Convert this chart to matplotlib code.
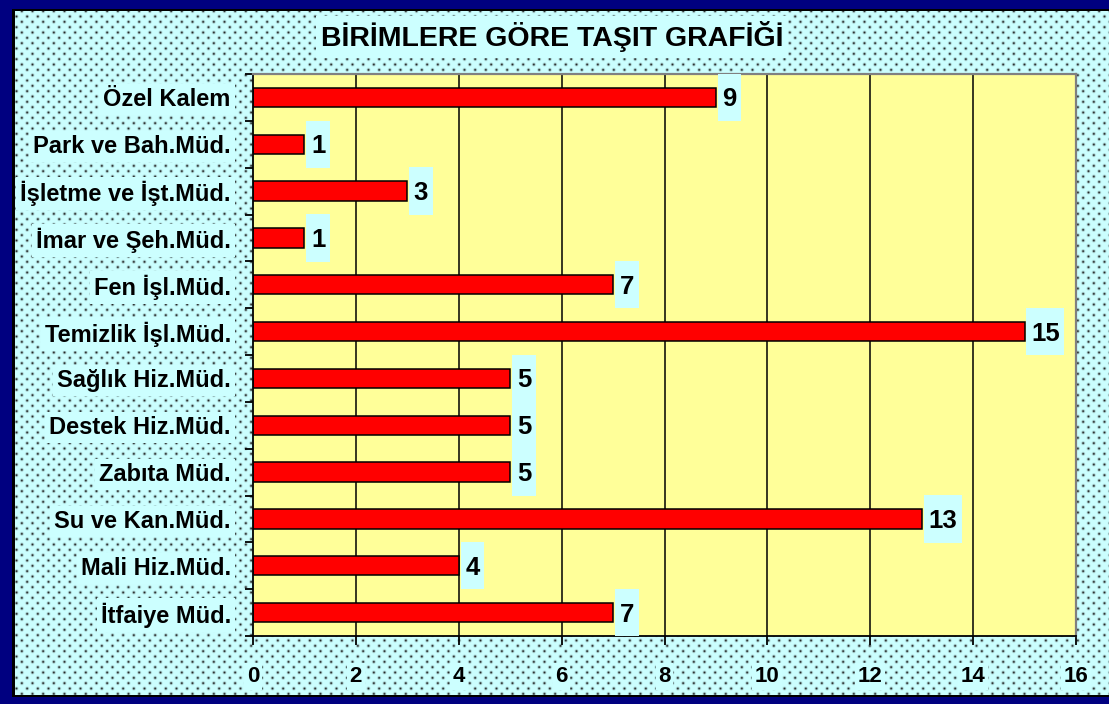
import numpy as np
import matplotlib
matplotlib.use("Agg")
import matplotlib.pyplot as plt
from matplotlib.path import Path
from matplotlib.ticker import FixedLocator

# ---------------- data ----------------
categories = ["İtfaiye Müd.", "Mali Hiz.Müd.", "Su ve Kan.Müd.", "Zabıta Müd.",
              "Destek Hiz.Müd.", "Sağlık Hiz.Müd.", "Temizlik İşl.Müd.",
              "Fen İşl.Müd.", "İmar ve Şeh.Müd.", "İşletme ve İşt.Müd.",
              "Park ve Bah.Müd.", "Özel Kalem"]
values = [7, 4, 13, 5, 5, 5, 15, 7, 1, 3, 1, 9]
x_ticks = [0, 2, 4, 6, 8, 10, 12, 14, 16]
title = "BİRİMLERE GÖRE TAŞIT GRAFİĞİ"

# ---------------- style ----------------
NAVY = np.array([0, 0, 128]) / 255.0
CYAN = np.array([204, 255, 255]) / 255.0
DOT = np.array([30, 30, 30]) / 255.0
YELLOW = "#ffff99"
plt.rcParams["font.family"] = ["Liberation Sans", "DejaVu Sans"]
plt.rcParams["font.weight"] = "bold"

W, H = 1109, 704
fig = plt.figure(figsize=(W / 100, H / 100), dpi=100)

# background: navy frame + dotted cyan chart area
yy, xx = np.mgrid[0:H, 0:W].astype(float)
s = 4.0 / 3.0
u, v = xx / s, yy / s
row = np.round(v / 4.0)
dy = v - row * 4.0
off = (row % 2) * 4.0
col = np.round((u - off) / 8.0)
dx = u - off - col * 8.0
d2 = (dx ** 2 + dy ** 2) * s * s
inten = 0.95 * np.exp(-d2 / (2 * 0.9 ** 2))
img = CYAN[None, None, :] * (1 - inten[..., None]) + DOT[None, None, :] * inten[..., None]
bg = np.empty((H, W, 3))
bg[:] = NAVY
top, left, bottom = 9, 12, 697
bg[top:bottom, left:] = 0.0
bg[top + 2:bottom - 2, left + 3:] = img[top + 2:bottom - 2, left + 3:]
fig.figimage(bg, xo=0, yo=0, origin="upper", zorder=-10)

SHIFT = 2.0  # px: text drawn lower so digits sit on the bar centre


def tall_box(x0, y0, width, height, mutation_size):
    px = 0.18 * mutation_size
    hh = 0.92 * mutation_size
    cy = y0 + height / 2.0 + SHIFT
    verts = [(x0 - px, cy - hh), (x0 + width + px, cy - hh),
             (x0 + width + px, cy + hh), (x0 - px, cy + hh), (x0 - px, cy - hh)]
    return Path(verts, closed=True)


ax = fig.add_axes([253 / W, 1 - 636 / H, (1076 - 253) / W, (636 - 74) / H])
ax.set_facecolor(YELLOW)
ypos = np.arange(len(categories))
ax.set_xlim(x_ticks[0], x_ticks[-1])
ax.set_ylim(-0.5, len(categories) - 0.5)

for xv in x_ticks[1:-1]:
    ax.axvline(xv, color="black", lw=1.1, zorder=1)

ax.barh(ypos, values, height=0.41, color="#ff0000", edgecolor="black",
        linewidth=1.1, zorder=2)

for yv, val in zip(ypos, values):
    ax.annotate(str(val), xy=(val, yv), xytext=(6.5, -SHIFT), textcoords="offset pixels",
                ha="left", va="center", fontsize=18.5, fontweight="bold",
                bbox=dict(boxstyle=tall_box, facecolor="#ccffff", edgecolor="none"),
                zorder=3)

# axes styling
for sp in ("left", "bottom"):
    ax.spines[sp].set_color("black")
    ax.spines[sp].set_linewidth(1.3)
for sp in ("top", "right"):
    ax.spines[sp].set_color("#808080")
    ax.spines[sp].set_linewidth(1.6)

ax.set_xticks(x_ticks)
ax.set_xticklabels([str(t) for t in x_ticks])
ax.tick_params(axis="x", direction="out", length=6.5, width=1.3, pad=15,
               labelsize=16)
ax.set_yticks(ypos)
ax.set_yticklabels(categories)
ax.tick_params(axis="y", which="major", length=0, pad=16, labelsize=17)
ax.yaxis.set_minor_locator(FixedLocator(np.arange(-0.5, len(categories), 1.0)))
ax.tick_params(axis="y", which="minor", direction="out", length=6, width=1.3)

for lab in ax.get_xticklabels():
    lab.set_fontweight("bold")
    lab.set_bbox(dict(boxstyle="square,pad=0.12", facecolor="#ccffff", edgecolor="none"))
for lab in ax.get_yticklabels():
    lab.set_fontweight("bold")
    lab.set_bbox(dict(boxstyle="square,pad=0.17", facecolor="#ccffff", edgecolor="none"))

fig.text(552 / W, 1 - 37 / H, title, ha="center", va="center", fontsize=20.5,
         fontweight="bold",
         bbox=dict(boxstyle="square,pad=0.18", facecolor="#ccffff", edgecolor="none"))

fig.savefig("out.png", dpi=100)
